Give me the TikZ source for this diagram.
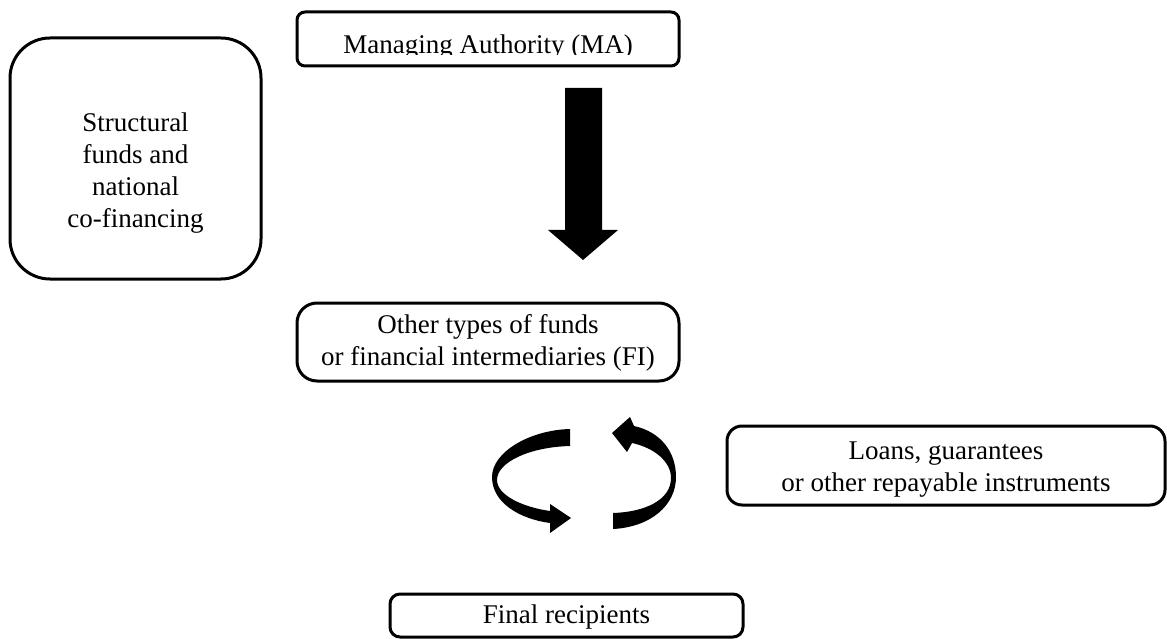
\documentclass[tikz,border=0pt]{standalone}
\usepackage{fontspec}
\setmainfont{Liberation Serif}
\begin{document}
\begin{tikzpicture}[x=1pt,y=-1pt,
  box/.style={draw, line width=3pt, inner sep=0pt, align=center, font=\fontsize{27}{32}\selectfont},
  txt/.style={inner sep=0pt, align=center, font=\fontsize{27}{32}\selectfont}]
\useasboundingbox (0,0) rectangle (1167,639);
% left box
\node[box, rounded corners=40pt, minimum width=251pt, minimum height=241pt] (sf) at (135.5,158.5) {};
\node[txt] (sftext) at (135.5,173) {Structural\\funds and\\national\\co-financing};
% top box (text clipped at bottom)
\node[box, rounded corners=8pt, minimum width=382pt, minimum height=54pt] (ma) at (488,39) {};
\begin{scope}
\clip (298,13) rectangle (678,55);
\node[txt, anchor=base] (matext) at (488,54) {Managing Authority (MA)};
\end{scope}
% middle box
\node[box, rounded corners=20pt, minimum width=382pt, minimum height=78pt] (fi) at (488,342) {};
\node[txt] (fitext) at (488,343) {Other types of funds\\or financial intermediaries (FI)};
% right box
\node[box, rounded corners=15pt, minimum width=438pt, minimum height=79pt] (loans) at (946,465.5) {};
\node[txt] (loanstext) at (946,469.5) {Loans, guarantees\\or other repayable instruments};
% bottom box
\node[box, rounded corners=10pt, minimum width=353pt, minimum height=43pt] (fr) at (566.5,615.5) {};
\node[txt] (frtext) at (566.5,617) {Final recipients};
% big down arrow
\fill (565,88) -- (602,88) -- (602,230) -- (618,230) -- (583,260) -- (548,230) -- (565,230) -- cycle;
% left circular arrow
\fill (570,429) .. controls (530,430) and (492,452) .. (492,477)
  .. controls (492,503) and (520,519) .. (550,523)
  -- (550,533) -- (571,518) -- (550,504) -- (550,511)
  .. controls (522,507) and (497,495) .. (497,480)
  .. controls (497,462) and (530,447) .. (570,446) -- cycle;
% right circular arrow
\fill (613,529) .. controls (651,527) and (676,505) .. (676,477)
  .. controls (676,452) and (661,432) .. (634,426)
  -- (630,417) -- (612,433) -- (627,452) -- (632,443)
  .. controls (655,448) and (671,462) .. (671,478)
  .. controls (671,500) and (645,512) .. (613,513) -- cycle;
\end{tikzpicture}
\end{document}
